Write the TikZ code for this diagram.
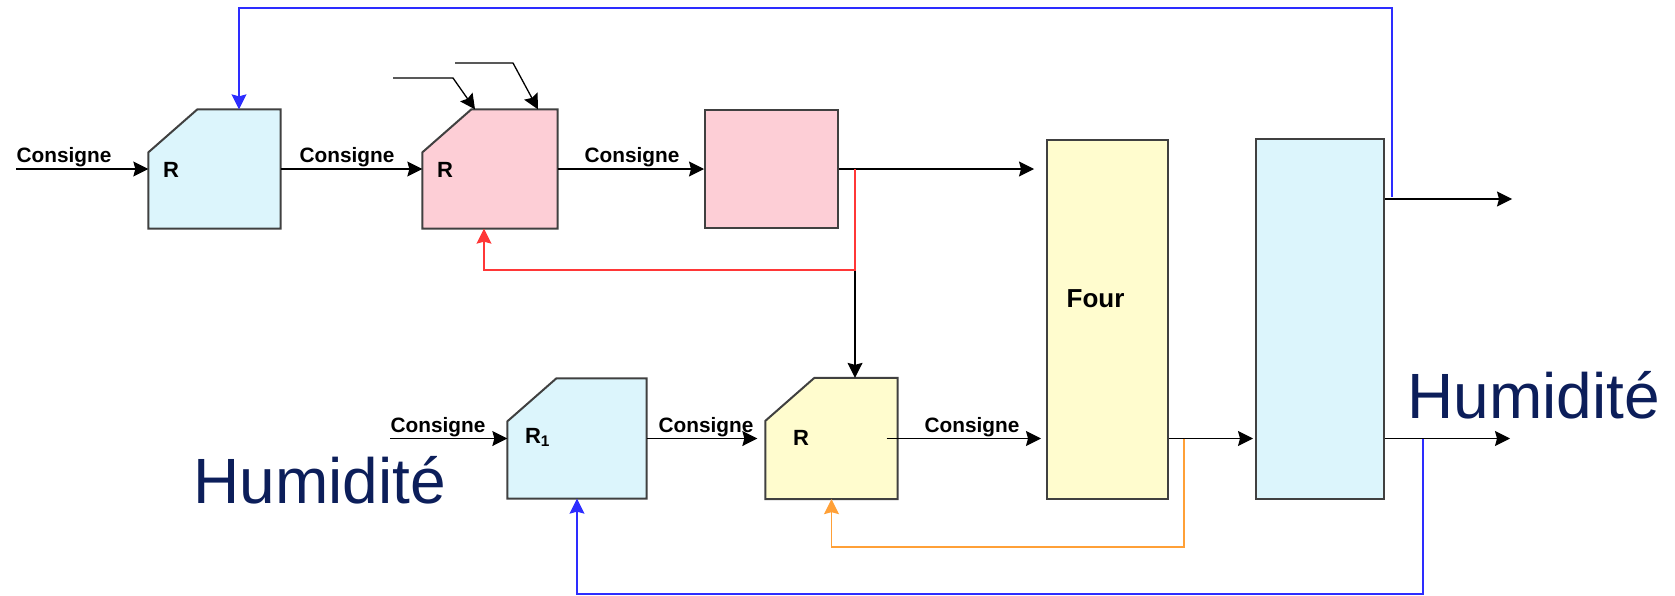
\documentclass[tikz,border=0pt]{standalone}
\usepackage{fontspec}
\setmainfont{Liberation Sans}
\usetikzlibrary{arrows.meta,calc,positioning}

\definecolor{boxblue}{RGB}{220,245,252}
\definecolor{boxpink}{RGB}{253,206,214}
\definecolor{boxyellow}{RGB}{255,252,206}
\definecolor{fbred}{RGB}{255,55,55}
\definecolor{fbblue}{RGB}{45,45,255}
\definecolor{fborange}{RGB}{255,160,55}
\definecolor{humnavy}{RGB}{12,30,90}

% regulator outline: box with its upper left corner cut off
\newcommand\regoutline[2]{%
  \draw[block line, fill=#2]
    ([yshift=-21.5pt]#1.north west) -- ([xshift=24.5pt]#1.north west)
    -- (#1.north east) -- (#1.south east) -- (#1.south west) -- cycle;}

\begin{document}
\begin{tikzpicture}[
  x=0.5pt,
  y=-0.5pt,
  >={Stealth[length=7.5pt,width=7.5pt,inset=1pt]},
  line width=0.65pt,
  every node/.style={font=\fontsize{10.4}{12}\selectfont\bfseries, inner sep=0pt},
  block line/.style={draw=black!75, line width=1pt},
  block/.style={
    block line,
    rectangle,
    minimum width=#1,
  },
  block/.default=65pt,
  regbox/.style={rectangle, minimum width=#1},
  regbox/.default=65.5pt,
  sig/.style={->, black},
  fb red/.style={->, fbred},
  fb blue/.style={->, fbblue},
  fb orange/.style={->, fborange},
  lbl/.style={anchor=base west},
  reglbl/.style={anchor=base west, font=\fontsize{11}{12}\selectfont\bfseries},
  hum/.style={anchor=base west, font=\fontsize{32}{36}\selectfont, text=humnavy},
]
\useasboundingbox (0,0) rectangle (1675,595);

% upper loop
\node[regbox, minimum height=59pt] (regA) at (214.5,169) {};
\node[regbox=67pt, minimum height=59pt] (regB) at (490,169) {};
\node[block=66.5pt, fill=boxpink, minimum height=59pt] (proc) at (771.5,169) {};
% lower loop
\node[regbox=69pt, minimum height=59.5pt] (regC) at (577,438.5) {};
\node[regbox, minimum height=60pt] (regD) at (831.5,438.5) {};
% plant
\node[block=60.5pt, fill=boxyellow, minimum height=179.5pt] (four) at (1107.5,319.5) {};
\node[block=64pt, fill=boxblue, minimum height=180pt] (sech) at (1320,319) {};

\regoutline{regA}{boxblue}
\regoutline{regB}{boxpink}
\regoutline{regC}{boxblue}
\regoutline{regD}{boxyellow}

\node[reglbl] at ([xshift=7pt,yshift=-4pt]regA.west) {R};
\node[reglbl] at ([xshift=7pt,yshift=-4pt]regB.west) {R};
\node[reglbl] at ([xshift=8.5pt,yshift=-2.3pt]regC.west) {R\textsubscript{1}};
\node[reglbl] at ([xshift=13.5pt,yshift=-3.5pt]regD.west) {R};
\node[anchor=base west, font=\fontsize{13}{15}\selectfont\bfseries] at ([xshift=10pt,yshift=6.25pt]four.west) {Four};

% free ends
\coordinate (inA) at (16,169);
\coordinate (inC) at (390,438.5);
\coordinate (dist1) at (393,78);
\coordinate (dist2) at (455,63);
\coordinate (split) at (855,169);
\coordinate (outT) at (1512,199);
\coordinate (outB) at (1510,438.5);

% setpoints
\draw[sig] (inA) -- (regA.west);
\draw[sig] (regA.east) -- (regB.west);
\draw[sig] (regB.east) -- (proc.west);
\draw[sig] (proc.east) -- (proc.east -| four.west) [shorten >=6pt];
\draw[sig] (inC) -- (regC.west);
\draw[sig, shorten >=4pt] (regC.east) -- (regD.west);
\draw[sig, shorten >=2.5pt] ([xshift=-5.5pt]regD.east) -- (regD.east -| four.west);
\draw[sig, shorten >=1pt] (regD.east -| four.east) -- (regD.east -| sech.west);
\draw[sig] (sech.east |- outT) -- (outT);
\draw[sig] (regD.east -| sech.east) -- (outB);
\draw[sig] (split) -- (split |- regD.north);

% disturbances on the pink regulator
\draw[sig] (dist1) -- (453,78) -- ([xshift=-7.5pt]regB.north);
\draw[sig] (dist2) -- (513,63) -- ([xshift=24pt]regB.north);

% feedback loops
\draw[fb red] (split) |- (484,270) -- ([xshift=-3pt]regB.south);
\draw[fb orange] (1184,438.5) |- (831.5,547) -- (regD.south);
\draw[fb blue] (1423,438.5) |- (577,594) -- (regC.south);
\draw[fb blue] (1392,197) |- (239,8) -- ([xshift=12.25pt]regA.north);

% labels
\node[lbl] (cons1) at (16,162) {Consigne};
\node[lbl] (cons2) at (299,162) {Consigne};
\node[lbl] (cons3) at (584,162) {Consigne};
\node[lbl] (cons4) at (390,432) {Consigne};
\node[lbl] (cons5) at (658,432) {Consigne};
\node[lbl] (cons6) at (924,432) {Consigne};

\node[hum] (humG) at (193,503) {Humidité};
\node[hum] (humD) at (1407,418) {Humidité};
\end{tikzpicture}
\end{document}
